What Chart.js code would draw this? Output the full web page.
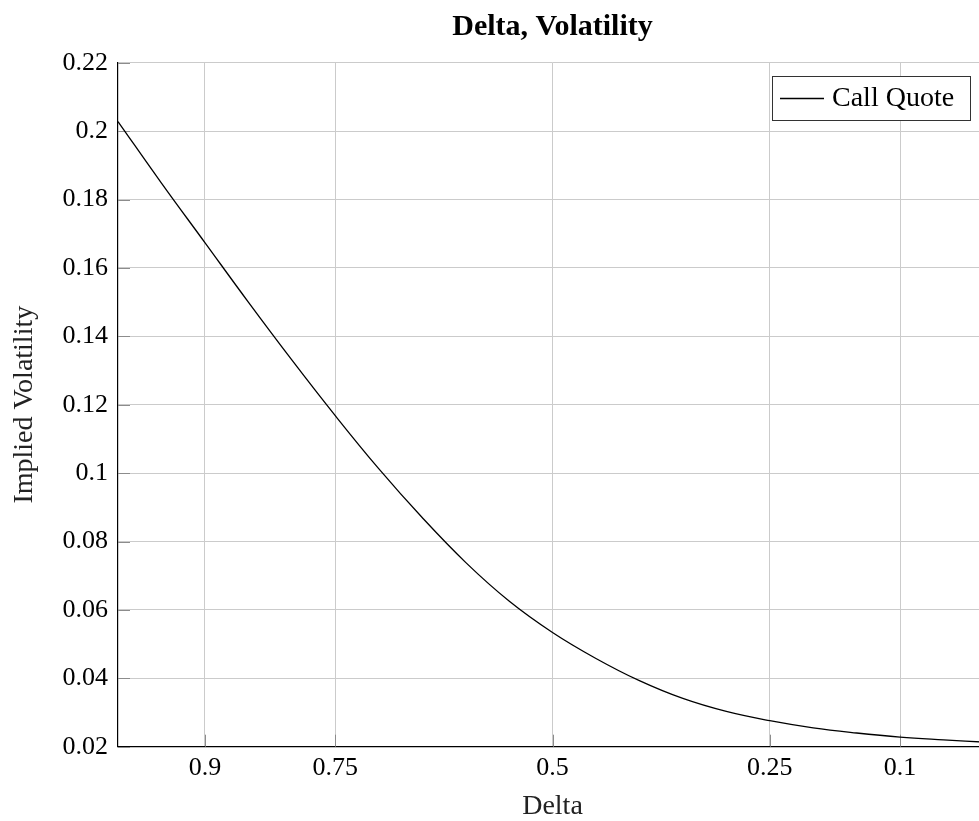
<!DOCTYPE html>
<html>
<head>
<meta charset="utf-8">
<script src="https://cdn.jsdelivr.net/npm/chart.js@4/dist/chart.umd.min.js"></script>
<style>
  html, body { margin: 0; padding: 0; overflow: hidden; background: #fff; }
  #wrap { width: 990px; height: 821px; position: relative; }
</style>
</head>
<body>
<div id="wrap"><canvas id="c"></canvas></div>
<script>
// Call quote implied volatility by option delta
const deltas = [1.0, 0.95, 0.9, 0.85, 0.8, 0.75, 0.7, 0.65, 0.6, 0.55, 0.5,
                0.45, 0.4, 0.35, 0.3, 0.25, 0.2, 0.15, 0.1, 0.05, 0.0];
const callVols = [0.2028, 0.1848, 0.1674, 0.1500, 0.1331, 0.1168, 0.1013, 0.0870, 0.0739, 0.0626, 0.0534,
                  0.0458, 0.0393, 0.0341, 0.0303, 0.0276, 0.0255, 0.0240, 0.0228, 0.0220, 0.0213];
const deltaTicks = [0.9, 0.75, 0.5, 0.25, 0.1];
const volTicks = [0.02, 0.04, 0.06, 0.08, 0.1, 0.12, 0.14, 0.16, 0.18, 0.2, 0.22];

const SERIF = '"Liberation Serif", "Times New Roman", serif';
const GRID = '#cbcbcb';

// short inward tick marks on the left and bottom axis lines
const innerTicks = {
  id: 'innerTicks',
  beforeDatasetsDraw(chart) {
    const { ctx, chartArea: a, scales: { x, y } } = chart;
    ctx.save();
    ctx.strokeStyle = '#8c8c8c';
    ctx.lineWidth = 1;
    ctx.beginPath();
    y.ticks.forEach(t => {
      const py = Math.round(y.getPixelForValue(t.value)) + 0.5;
      ctx.moveTo(a.left, py); ctx.lineTo(a.left + 12, py);
    });
    x.ticks.forEach(t => {
      const px = Math.round(x.getPixelForValue(t.value)) + 0.5;
      ctx.moveTo(px, a.bottom); ctx.lineTo(px, a.bottom - 12);
    });
    ctx.stroke();
    ctx.restore();
  }
};

// boxed legend in the upper right corner of the plot area
const cornerLegend = {
  id: 'cornerLegend',
  afterDraw(chart) {
    const { ctx, chartArea: a } = chart;
    const ds = chart.data.datasets[0];
    ctx.save();
    ctx.font = '28px ' + SERIF;
    const tw = ctx.measureText(ds.label).width;
    const w = Math.round(tw + 76), h = 44;
    const x0 = Math.round(a.right - 0.02 * (a.right - a.left) - w);
    const y0 = Math.round(a.top + 0.02 * (a.bottom - a.top));
    ctx.fillStyle = '#fff';
    ctx.fillRect(x0, y0, w, h);
    ctx.strokeStyle = '#333';
    ctx.lineWidth = 1;
    ctx.strokeRect(x0 + 0.5, y0 + 0.5, w, h);
    const my = y0 + h / 2 + 0.5;
    ctx.strokeStyle = ds.borderColor;
    ctx.lineWidth = ds.borderWidth;
    ctx.beginPath();
    ctx.moveTo(x0 + 8, my); ctx.lineTo(x0 + 52, my);
    ctx.stroke();
    ctx.fillStyle = '#000';
    ctx.textBaseline = 'middle';
    ctx.textAlign = 'left';
    ctx.fillText(ds.label, x0 + 60, my);
    ctx.restore();
  }
};

new Chart(document.getElementById('c'), {
  type: 'line',
  data: {
    datasets: [{
      label: 'Call Quote',
      data: deltas.map((d, i) => ({ x: d, y: callVols[i] })),
      borderColor: '#000',
      borderWidth: 1.3,
      pointRadius: 0,
      fill: false,
      tension: 0.4
    }]
  },
  options: {
    responsive: true,
    maintainAspectRatio: false,
    animation: false,
    layout: { padding: { left: 0, right: 3, top: 0, bottom: 0 } },
    plugins: {
      legend: { display: false },
      tooltip: { enabled: false },
      title: {
        display: true,
        text: 'Delta, Volatility',
        fullSize: false,
        color: '#000',
        font: { family: SERIF, size: 30, weight: 'bold', lineHeight: 1.2 },
        padding: { top: 9, bottom: 17.7 }
      }
    },
    scales: {
      x: {
        type: 'linear',
        position: 'bottom',
        min: 0,
        max: 1,
        reverse: true,
        afterBuildTicks: s => { s.ticks = deltaTicks.map(v => ({ value: v })); },
        afterFit: s => { s.height = 74.3; },
        ticks: {
          callback: v => String(v),
          color: '#000',
          font: { family: SERIF, size: 26 },
          padding: 6,
          maxRotation: 0,
          autoSkip: false
        },
        grid: { color: GRID, lineWidth: 1, drawTicks: false },
        border: { display: true, color: '#000', width: 1.2 },
        title: {
          display: true,
          text: 'Delta',
          color: '#222',
          font: { family: SERIF, size: 28, lineHeight: 1.05 },
          padding: { top: 0, bottom: 0 }
        }
      },
      y: {
        type: 'linear',
        position: 'left',
        min: 0.02,
        max: 0.22,
        afterBuildTicks: s => { s.ticks = volTicks.map(v => ({ value: v })); },
        afterFit: s => { s.width = 118; },
        ticks: {
          callback: v => String(parseFloat(Number(v).toFixed(2))),
          color: '#000',
          font: { family: SERIF, size: 26 },
          padding: 10,
          autoSkip: false
        },
        grid: { color: GRID, lineWidth: 1, drawTicks: false },
        border: { display: true, color: '#000', width: 1.2 },
        title: {
          display: true,
          text: 'Implied Volatility',
          color: '#222',
          font: { family: SERIF, size: 28, lineHeight: 1.2 },
          padding: { top: 8, bottom: 0 }
        }
      }
    }
  },
  plugins: [innerTicks, cornerLegend]
});
</script>
</body>
</html>
